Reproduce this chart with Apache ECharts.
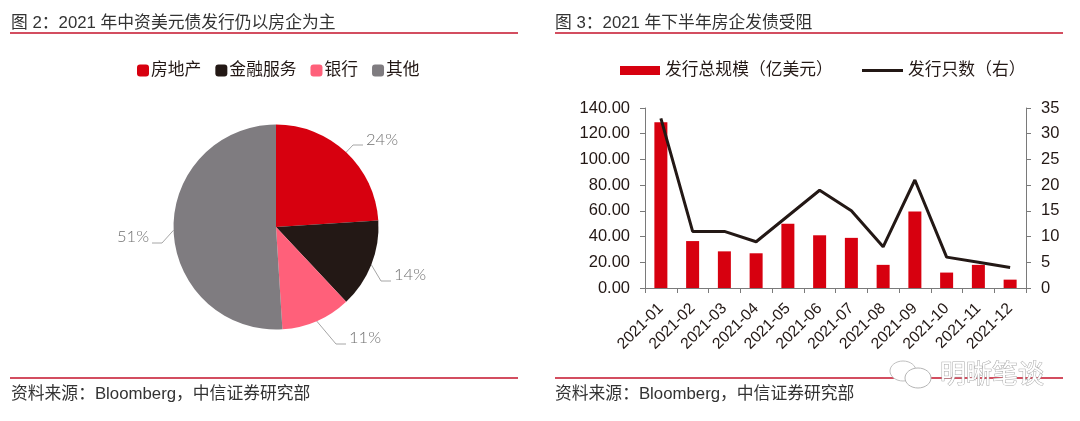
<!DOCTYPE html>
<html>
<head>
<meta charset="utf-8">
<style>html,body{margin:0;padding:0;background:#fff}#main{width:1080px;height:421px}</style>
<script src="https://cdn.jsdelivr.net/npm/echarts@6/dist/echarts.min.js"></script>
</head>
<body>
<div id="main"></div>
<script>
var pieNames = ['房地产', '金融服务', '银行', '其他'];
var pieValues = [24, 14, 11, 51];
var pieColors = ['#d7000f', '#231815', '#ff607a', '#7f7c80'];

var months = ['2021-01', '2021-02', '2021-03', '2021-04', '2021-05', '2021-06',
  '2021-07', '2021-08', '2021-09', '2021-10', '2021-11', '2021-12'];
var issueAmount = [129, 36.5, 28.5, 27, 50, 41, 39, 18, 59.5, 12, 18, 6.5];
var issueCount = [33, 11, 11, 9, 14, 19, 15, 8, 21, 6, 5, 4];

// where each pie label sits and how its leader line bends
var pieLabelPlace = [
  { x: 366, y: 140, align: 'left', elbow: [353, 145], end: [363, 145] },
  { x: 394, y: 275, align: 'left', elbow: [381, 281], end: [391, 281] },
  { x: 349, y: 338, align: 'left', elbow: [336, 344], end: [346, 344] },
  { x: 149, y: 237, align: 'right', elbow: [162, 243], end: [152, 243] }
];

var fontCn = '"Liberation Sans", "Noto Sans CJK SC", sans-serif';
var textColor = '#231815';
var axisColor = '#7a7a7a';
var ruleColor = '#c5132b';

function rule(x1, x2, y) {
  return { type: 'line', shape: { x1: x1, y1: y, x2: x2, y2: y }, style: { stroke: ruleColor, lineWidth: 1.5 } };
}
function label(text, x, y) {
  return { type: 'text', x: x, y: y, style: { text: text, font: '16.8px ' + fontCn, fill: '#333', textVerticalAlign: 'middle' } };
}

var myChart = echarts.init(document.getElementById('main'), null, { renderer: 'canvas' });

var legendText = { fontFamily: fontCn, fontSize: 16.8, color: textColor };

var option = {
  animation: false,
  backgroundColor: '#fff',
  legend: [
    {
      data: pieNames, left: 132, top: 57, itemWidth: 12, itemHeight: 12, itemGap: 14,
      icon: 'roundRect',
      textStyle: { fontFamily: fontCn, fontSize: 16.8, color: textColor, padding: [0, 0, 0, -3] }
    },
    {
      data: [{ name: '发行总规模（亿美元）', icon: 'rect' }], left: 615, top: 57, itemWidth: 40, itemHeight: 9,
      textStyle: legendText
    },
    {
      data: [{ name: '发行只数（右）', icon: 'rect' }], left: 857, top: 57, itemWidth: 41, itemHeight: 3,
      textStyle: legendText
    }
  ],
  grid: { left: 645, right: 54, top: 108, bottom: 133 },
  xAxis: {
    type: 'category', data: months,
    axisLine: { lineStyle: { color: axisColor, width: 1 } },
    axisTick: { show: true, alignWithLabel: false, length: 5, lineStyle: { color: axisColor } },
    axisLabel: { rotate: 45, interval: 0, margin: 18, fontFamily: fontCn, fontSize: 15.7, color: textColor }
  },
  yAxis: [
    {
      type: 'value', min: 0, max: 140, interval: 20, splitLine: { show: false },
      axisLine: { show: true, lineStyle: { color: axisColor } },
      axisTick: { show: true, length: 5, lineStyle: { color: axisColor } },
      axisLabel: { formatter: function (v) { return v.toFixed(2); }, margin: 15, fontFamily: fontCn, fontSize: 16.5, color: textColor }
    },
    {
      type: 'value', min: 0, max: 35, interval: 5, position: 'right', splitLine: { show: false },
      axisLine: { show: true, lineStyle: { color: axisColor } },
      axisTick: { show: true, length: 5, lineStyle: { color: axisColor } },
      axisLabel: { margin: 15, fontFamily: fontCn, fontSize: 16.5, color: textColor }
    }
  ],
  series: [
    {
      type: 'pie', center: [276, 227], radius: [0, 102.5], startAngle: 90, clockwise: true,
      data: pieNames.map(function (n, i) {
        return { name: n, value: pieValues[i], itemStyle: { color: pieColors[i] } };
      }),
      label: { formatter: '{c}%', fontFamily: 'Lato', fontWeight: 300, fontSize: 16.5, color: '#6f6f6f' },
      labelLine: { length: 14, length2: 12, lineStyle: { color: '#a6a6a6', width: 1 } },
      labelLayout: function (params) {
        var p = pieLabelPlace[params.dataIndex];
        return {
          x: p.x, y: p.y, align: p.align, verticalAlign: 'middle',
          labelLinePoints: [params.labelLinePoints[0], p.elbow, p.end]
        };
      },
      emphasis: { disabled: true }
    },
    {
      name: '发行总规模（亿美元）', type: 'bar', data: issueAmount, barWidth: 13,
      itemStyle: { color: '#d7000f' }
    },
    {
      name: '发行只数（右）', type: 'line', yAxisIndex: 1, data: issueCount, symbol: 'none',
      lineStyle: { color: '#231815', width: 3 }, itemStyle: { color: '#231815' }
    }
  ],
  graphic: [
    label('图 2：2021 年中资美元债发行仍以房企为主', 11, 23),
    label('图 3：2021 年下半年房企发债受阻', 555, 23),
    rule(10, 518, 33),
    rule(555, 1063, 33),
    rule(10, 518, 378),
    rule(555, 1063, 378),
    label('资料来源：Bloomberg，中信证券研究部', 11, 394),
    label('资料来源：Bloomberg，中信证券研究部', 555, 394),
    {
      type: 'text', x: 940, y: 373, z: 10,
      style: { text: '明晰笔谈', font: '26px "Noto Sans CJK SC"', fill: '#fff', stroke: '#a9a9a9', lineWidth: 1, textVerticalAlign: 'middle' }
    },
    { type: 'ellipse', z: 10, shape: { cx: 903, cy: 371, rx: 13, ry: 10 }, style: { fill: '#fff', stroke: '#c0c0c0', lineWidth: 1 } },
    { type: 'ellipse', z: 10, shape: { cx: 918, cy: 378, rx: 13, ry: 10 }, style: { fill: '#fff', stroke: '#b5b5b5', lineWidth: 1 } }
  ]
};
myChart.setOption(option);
</script>
</body>
</html>
